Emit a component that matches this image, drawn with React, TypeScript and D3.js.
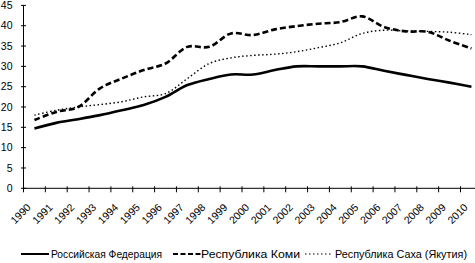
import React from "react";
import * as d3 from "d3";

const years = ["1990","1991","1992","1993","1994","1995","1996","1997","1998","1999","2000","2001","2002","2003","2004","2005","2006","2007","2008","2009","2010"];
const russia = [14.7,16.1,17.0,18.0,19.2,20.5,22.5,25.4,26.9,28.0,28.0,29.1,30.0,30.0,30.0,30.0,28.9,27.9,26.9,26.0,25.0];
const komi = [16.8,18.8,20.0,24.6,27.0,29.1,30.7,34.8,34.8,38.1,37.7,39.1,39.9,40.5,40.9,42.3,39.7,38.6,38.5,36.3,34.4];
const sakha = [18.0,19.2,20.0,20.6,21.3,22.5,23.3,27.0,30.7,32.1,32.7,33.0,33.6,34.6,35.8,38.1,38.9,38.7,38.6,38.4,37.8];
const yTicks = [0,5,10,15,20,25,30,35,40,45];
const seriesNames = ["Российская Федерация","Республика Коми","Республика Саха (Якутия)"];

const W = 475, H = 263;
const FONT = "'Liberation Sans', Arial, sans-serif";

export default function App() {
  const x0 = 23.5;
  const step = 21.85;
  const x = d3.scaleBand<string>().domain(years).range([x0, x0 + step * years.length]).paddingInner(0).paddingOuter(0);
  const y = d3.scaleLinear().domain([0, 45]).range([188.3, 5.4]);
  const line = d3.line<number>()
    .x((_, i) => (x(years[i]) as number) + x.bandwidth() / 2)
    .y(d => y(d))
    .curve(d3.curveCatmullRom.alpha(0.5));

  const styles = [
    { w: 2.6, dash: "none" },
    { w: 2.6, dash: "6,3" },
    { w: 1.4, dash: "1.5,2.5" },
  ];
  const data = [russia, komi, sakha];
  const legend = [
    { lx: 21, tx: 51, tw: 111 },
    { lx: 173, tx: 201, tw: 99 },
    { lx: 305, tx: 335, tw: 132 },
  ];
  const legY = 254;
  const tickXs = d3.range(years.length + 1).map(i => x0 + step * i);

  return (
    <svg width={W} height={H} style={{ position: "absolute", left: 0, top: 0, background: "#fff" }} fontFamily={FONT}>
      {/* y axis */}
      <line x1={x0} x2={x0} y1={y(45)} y2={y(0)} stroke="#000" strokeWidth={1} />
      {yTicks.map(t => (
        <g key={t}>
          <line x1={x0 - 2.5} x2={x0 + 2.5} y1={y(t)} y2={y(t)} stroke="#000" />
          <text x={12.5} y={y(t)} dy="0.35em" textAnchor="end" fontSize={10.5} fill="#000">{t}</text>
        </g>
      ))}
      {/* x axis */}
      <line x1={x0} x2={W} y1={y(0)} y2={y(0)} stroke="#000" />
      {tickXs.map((tx, i) => (
        <line key={i} x1={tx} x2={tx} y1={y(0) - 2} y2={y(0) + 4} stroke="#000" />
      ))}
      {years.map(yr => {
        const cx = (x(yr) as number) + x.bandwidth() / 2;
        return (
          <text key={yr} transform={`translate(${cx - 3},${208}) rotate(-45)`} textAnchor="end" fontSize={10.5} fill="#000">{yr}</text>
        );
      })}
      {data.map((d, i) => (
        <path key={i} d={line(d) || ""} fill="none" stroke="#000" strokeWidth={styles[i].w} strokeDasharray={styles[i].dash} />
      ))}
      {/* legend */}
      {legend.map((l, i) => (
        <g key={i}>
          <line x1={l.lx} x2={l.lx + 28} y1={legY} y2={legY} stroke="#000" strokeWidth={i === 2 ? 1.2 : 2} strokeDasharray={i === 0 ? "none" : i === 1 ? "5,2.5" : "1.5,2.5"} />
          <text x={l.tx} y={legY} dy="0.35em" fontSize={10.5} fill="#000" textLength={l.tw} lengthAdjust="spacingAndGlyphs">{seriesNames[i]}</text>
        </g>
      ))}
    </svg>
  );
}
